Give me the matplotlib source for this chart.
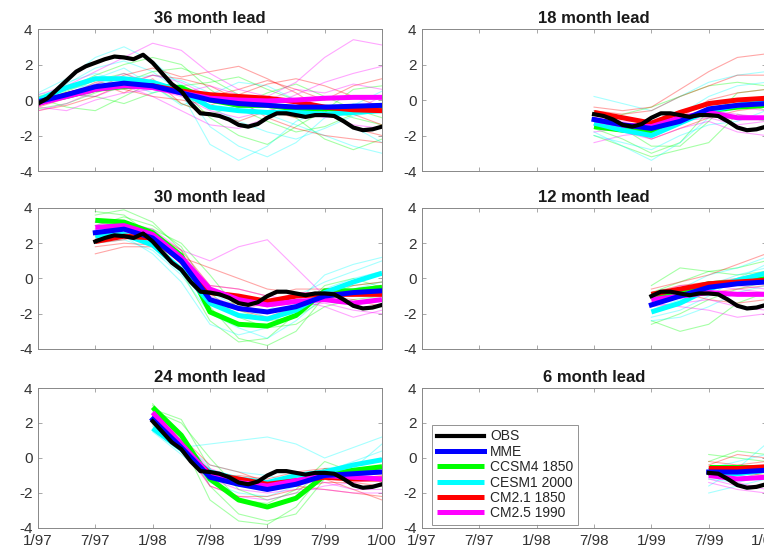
import numpy as np
import matplotlib
matplotlib.use("Agg")
import matplotlib.pyplot as plt

plt.rcParams["font.family"] = ["Liberation Sans", "DejaVu Sans"]
plt.rcParams["axes.unicode_minus"] = False

tick_labels = ["1/97", "7/97", "1/98", "7/98", "1/99", "7/99", "1/00"]
leads = [36, 18, 30, 12, 24, 6]          # panel order: row by row
lead_start = {36: 0, 30: 6, 24: 12, 18: 18, 12: 24, 6: 30}   # months after 1/97

# observed index, monthly from 1/97 to 1/00
obs = [-0.2, 0.1, 0.6, 1.1, 1.6, 1.9, 2.1, 2.3, 2.45, 2.4, 2.3, 2.55, 2.1,
       1.5, 0.9, 0.5, -0.2, -0.75, -0.8, -0.9, -1.1, -1.4, -1.5, -1.35, -1.0,
       -0.75, -0.75, -0.85, -0.95, -0.85, -0.85, -0.9, -1.2, -1.55, -1.7,
       -1.65, -1.5]

# model means, every 3 months from forecast start to 1/00
mme = {
    36: [-0.1, 0.3, 0.75, 0.95, 0.8, 0.4, 0.0, -0.2, -0.3, -0.4, -0.4, -0.35, -0.3],
    30: [2.6, 2.8, 2.3, 1.0, -1.2, -1.7, -1.9, -1.6, -1.0, -0.8, -0.7],
    24: [2.2, 0.6, -1.1, -1.5, -1.8, -1.5, -1.0, -0.9, -0.8],
    18: [-1.1, -1.4, -1.6, -1.2, -0.5, -0.3, -0.2],
    12: [-1.5, -1.0, -0.5, -0.3, -0.2],
    6: [-0.8, -0.8, -0.7],
}
ccsm4 = {
    36: [-0.1, 0.2, 0.6, 0.75, 0.8, 0.7, 0.0, -0.3, -0.3, -0.5, -0.5, -0.5, -0.5],
    30: [3.3, 3.2, 2.6, 1.3, -1.9, -2.6, -2.7, -2.1, -0.7, -0.7, -0.5],
    24: [2.9, 1.3, -1.2, -2.4, -2.8, -2.3, -1.0, -0.7, -0.5],
    18: [-1.5, -1.7, -1.8, -1.2, -0.6, -0.4, -0.3],
    12: [-1.0, -0.7, -0.3, -0.2, 0.0],
    6: [-0.5, -0.5, -0.5],
}
cesm1 = {
    36: [0.0, 0.7, 1.2, 1.2, 1.0, 0.5, -0.4, -0.6, -0.7, -0.7, -0.8, -0.7, -0.6],
    30: [2.4, 2.5, 1.9, 0.5, -1.4, -2.1, -2.3, -1.8, -0.8, -0.2, 0.3],
    24: [1.7, 0.5, -0.8, -1.2, -1.4, -1.0, -0.8, -0.4, -0.1],
    18: [-1.3, -1.7, -2.0, -1.3, -0.6, -0.3, 0.0],
    12: [-1.9, -1.4, -0.6, -0.1, 0.3],
    6: [-0.9, -0.9, -0.7],
}
cm21 = {
    36: [-0.2, 0.3, 0.7, 0.85, 0.8, 0.5, 0.3, 0.2, 0.1, -0.1, -0.4, -0.55, -0.6],
    30: [2.1, 2.4, 2.3, 1.0, -0.8, -1.0, -1.3, -1.0, -0.9, -0.9, -0.9],
    24: [2.3, 0.6, -0.9, -1.2, -1.5, -1.3, -1.1, -1.2, -1.2],
    18: [-0.7, -1.0, -1.3, -0.7, -0.2, 0.0, 0.1],
    12: [-0.9, -0.6, -0.3, -0.2, -0.1],
    6: [-0.6, -0.6, -0.5],
}
cm25 = {
    36: [-0.2, 0.2, 0.6, 0.8, 0.7, 0.4, 0.1, 0.0, -0.05, 0.0, 0.1, 0.15, 0.15],
    30: [2.9, 3.0, 2.5, 1.2, -0.6, -1.2, -1.5, -1.3, -1.2, -1.4, -1.2],
    24: [2.6, 0.8, -1.0, -1.4, -1.6, -1.3, -1.0, -1.1, -1.2],
    18: [-1.1, -1.4, -1.5, -1.0, -0.7, -1.0, -1.0],
    12: [-1.2, -1.0, -0.8, -0.9, -0.9],
    6: [-1.0, -1.2, -1.1],
}

# a few ensemble members per model, every 3 months
ccsm4_members = {
    36: [[0.2, 0.6, 1.4, 2.0, 2.4, 2.0, 0.6, -0.5, -1.2, -1.8, -1.5, -0.8, -0.4],
         [-0.5, -0.2, 0.4, 1.0, 1.6, 1.8, 1.2, 0.3, -0.4, -1.0, -2.2, -2.8, -2.2],
         [-0.3, 0.3, 0.2, -0.2, 0.4, 0.8, 1.0, 1.3, 0.6, 0.0, -0.4, -1.0, -1.4],
         [0.1, -0.4, -0.6, 0.2, 1.0, 0.6, -1.0, -2.0, -2.5, -1.5, -0.6, 0.6, 0.8],
         [-0.2, 0.5, 1.1, 1.5, 0.8, -0.2, -0.8, -0.3, 0.4, 0.9, 0.2, -0.5, -1.0]],
    30: [[3.6, 3.9, 3.2, 1.6, -1.6, -3.4, -3.8, -3.0, -1.0, -0.4, -0.2],
         [3.0, 3.5, 3.0, 1.8, -0.8, -2.2, -2.8, -2.6, -1.6, -1.2, -1.0],
         [3.8, 3.6, 2.4, 0.4, -2.4, -3.6, -3.4, -2.0, -0.4, 0.0, -0.5],
         [3.2, 3.0, 2.8, 2.0, 0.2, -1.8, -2.4, -2.2, -1.2, -0.8, -0.8]],
    24: [[3.1, 1.0, -2.4, -3.6, -3.8, -2.8, -0.8, -0.4, -0.2],
         [2.7, 2.0, 0.0, -1.8, -2.4, -2.0, -0.6, -0.6, -0.8],
         [3.0, 1.4, -1.6, -3.2, -3.6, -3.2, -1.2, -1.0, -0.4],
         [2.8, 2.2, -0.6, -2.4, -2.6, -1.8, -0.2, -0.8, -0.6]],
    18: [[-1.2, -1.6, -2.6, -2.6, -1.2, 0.4, 0.6],
         [-1.6, -2.2, -3.0, -2.4, -0.6, 0.0, -0.6],
         [-1.4, -0.8, -0.4, 0.2, 0.8, 1.0, 0.8],
         [-2.0, -2.6, -3.2, -2.8, -2.4, -0.8, -1.2]],
    12: [[-0.4, 0.6, 0.4, 0.2, 0.4],
         [-2.6, -2.0, -1.2, -0.6, -0.2],
         [-2.4, -3.0, -2.6, -1.4, -0.8],
         [-0.8, -0.2, 0.4, 0.6, 1.0]],
    6: [[-0.2, 0.4, 0.2], [-1.0, -0.8, -0.8], [0.2, 0.0, -0.2], [-0.6, -1.2, -0.8]],
}
cesm1_members = {
    36: [[0.4, 1.2, 2.4, 3.0, 2.2, 0.8, -1.5, -2.6, -3.2, -2.4, -1.0, -0.2, -0.4],
         [-0.1, 0.9, 1.8, 2.2, 1.6, 0.4, -2.5, -3.4, -2.6, -1.2, -0.6, -1.5, -2.4],
         [0.3, 0.6, 0.9, 1.2, 1.4, 1.1, 0.4, -0.2, -0.8, -1.4, -2.0, -2.6, -3.0],
         [-0.3, 0.2, 1.2, 1.8, 0.8, -0.3, 0.3, 1.0, 0.8, 0.0, -0.8, -0.3, 0.5],
         [0.0, 1.0, 1.5, 1.0, 0.4, 0.9, -0.4, -1.2, -1.8, -2.2, -1.6, -0.9, -0.6]],
    30: [[2.6, 2.4, 1.4, -0.2, -2.6, -3.2, -2.8, -1.4, 0.2, 0.8, 1.2],
         [2.2, 2.7, 2.2, 1.0, -0.8, -1.6, -2.2, -2.0, -0.6, 0.0, 0.4],
         [2.0, 2.2, 1.6, 0.2, -2.0, -2.8, -3.4, -2.4, -1.0, -0.6, -0.2],
         [2.8, 2.9, 2.4, 0.8, -1.4, -2.2, -1.8, -1.0, -0.2, 0.4, 1.0]],
    24: [[1.9, 0.6, 0.8, 1.0, 1.2, 0.8, 0.0, 0.6, 1.2],
         [1.5, 0.2, -1.2, -1.6, -1.6, -1.2, -0.8, -0.2, 0.4],
         [1.8, 0.8, -0.4, -0.8, -1.0, -1.4, -1.0, -0.6, 0.8],
         [1.6, 0.4, -1.4, -2.0, -2.2, -1.6, -0.6, -0.4, -0.2]],
    18: [[0.2, -0.2, -0.6, 0.2, 1.0, 1.4, 1.6],
         [-1.8, -2.6, -3.4, -2.4, -1.0, -0.4, -0.2],
         [-0.6, -1.0, -1.4, -0.8, 0.2, 0.8, 1.0],
         [-2.0, -2.4, -2.8, -2.0, -1.4, -1.2, -0.6]],
    12: [[-2.2, -1.8, -1.0, 0.0, 0.8],
         [-1.6, -0.6, 0.2, 0.6, 1.2],
         [-2.4, -2.2, -1.6, -0.8, -0.4],
         [-1.8, -1.2, -0.4, 0.2, 0.6]],
    6: [[-1.6, -0.6, 0.8], [-1.2, -1.4, -1.0], [-0.6, -0.2, 0.2], [-2.0, -1.6, -1.2]],
}
cm21_members = {
    36: [[-0.4, 0.1, 0.6, 1.4, 1.8, 1.3, 1.6, 1.9, 1.2, 0.4, -0.6, -1.6, -2.0],
         [0.0, 0.6, 1.1, 0.6, 0.2, 0.0, -0.3, 0.3, 0.9, 1.2, 0.8, 0.2, -0.4],
         [-0.6, -0.3, 0.2, 0.9, 1.4, 1.2, 0.8, 0.0, -1.0, -1.6, -2.0, -2.2, -2.4],
         [-0.2, 0.4, 0.8, 1.0, 0.6, 0.4, 0.2, 0.6, 1.1, 0.6, 0.0, 0.8, 1.2],
         [0.2, 0.2, 1.0, 0.4, 1.2, -0.2, -0.8, -1.2, -0.6, -1.0, -0.3, -0.8, -1.4]],
    30: [[1.4, 1.8, 1.8, 1.2, 0.6, 0.0, -0.6, -0.8, -0.8, -0.6, -0.4],
         [2.4, 2.6, 2.4, 0.8, -1.2, -1.8, -2.2, -1.6, -1.0, -1.2, -1.6],
         [2.0, 2.2, 2.6, 1.6, -0.4, -0.6, -1.0, -0.6, -0.6, -0.4, -0.2],
         [1.8, 2.0, 1.9, 0.4, -1.4, -1.4, -1.6, -1.4, -1.2, -1.4, -1.2]],
    24: [[2.4, 1.2, -0.4, -0.8, -1.4, -1.2, -1.2, -1.8, -2.4],
         [2.2, 0.8, -1.6, -2.2, -2.2, -1.8, -1.4, -1.4, -1.6],
         [2.3, 0.4, -1.0, -1.0, -1.2, -0.8, -0.6, -0.8, -1.0],
         [2.1, 1.0, -0.8, -1.6, -1.8, -1.6, -1.8, -2.0, -2.2]],
    18: [[-0.4, -0.6, -0.4, 0.6, 1.6, 2.4, 2.6],
         [-1.0, -1.4, -1.8, -1.0, 0.0, 0.4, 0.6],
         [-0.6, -0.8, -0.6, 0.2, 0.8, 1.4, 1.4],
         [-1.2, -1.6, -2.2, -1.6, -1.0, -0.6, -0.4]],
    12: [[-0.6, -0.2, 0.2, 0.8, 1.4],
         [-1.2, -1.0, -0.8, -0.6, -0.4],
         [-0.8, -0.4, -0.2, 0.0, 0.4],
         [-1.0, -0.8, -1.2, -1.4, -1.2]],
    6: [[-0.4, 0.2, 0.0], [-0.8, -1.0, -0.8], [-0.2, -0.4, -0.2], [-1.0, -0.8, -1.0]],
}
cm25_members = {
    36: [[0.3, 0.8, 1.6, 2.4, 3.2, 2.8, 1.5, 0.6, 0.2, 1.0, 2.4, 3.4, 3.1],
         [-0.4, -0.6, 0.0, 0.4, 0.6, 0.2, -0.6, -1.0, -0.6, -0.2, -0.8, -1.4, -1.6],
         [-0.1, 0.4, 0.9, 1.5, 0.9, 0.4, 0.8, 0.3, -0.4, 0.3, 1.0, 1.5, 1.9],
         [-0.6, -0.2, 0.5, 0.8, 0.2, -0.6, -1.4, -1.6, -1.0, -0.5, -1.0, -0.6, 0.2],
         [0.0, 0.3, 0.2, 0.8, 1.4, 1.0, 0.2, -0.3, 0.0, 0.6, 0.4, 0.9, 0.6]],
    30: [[2.8, 3.2, 2.8, 1.6, 1.0, 1.8, 2.2, 0.6, -1.0, -1.4, -1.2],
         [3.0, 2.8, 2.2, 0.8, -1.0, -1.6, -2.0, -1.6, -1.4, -1.8, -2.0],
         [2.6, 3.1, 2.6, 1.4, -0.4, -0.6, -1.0, -1.2, -1.6, -2.2, -1.8],
         [3.2, 2.9, 2.0, 0.6, -1.4, -1.8, -1.4, -0.8, -0.8, -1.0, -0.6]],
    24: [[2.7, 1.0, -0.6, -1.2, -1.6, -1.2, -1.4, -1.8, -1.8],
         [2.5, 0.6, -1.6, -2.2, -2.4, -2.0, -1.6, -1.4, -1.2],
         [2.6, 1.2, -0.8, -1.4, -1.8, -1.6, -1.2, -1.0, -0.6],
         [2.4, 0.4, -1.2, -1.8, -2.0, -1.8, -1.8, -2.0, -2.0]],
    18: [[-2.4, -2.0, -1.8, -1.2, -1.0, -1.4, -1.2],
         [-0.8, -1.2, -1.2, -0.6, -0.2, -0.4, -0.6],
         [-1.4, -1.8, -2.2, -1.6, -1.2, -1.8, -2.0],
         [-1.8, -1.6, -1.6, -1.0, -0.6, -0.8, -1.0]],
    12: [[-1.4, -1.6, -1.8, -2.2, -2.0],
         [-1.0, -0.4, -0.4, -0.6, -0.8],
         [-1.6, -1.4, -1.2, -1.6, -1.8],
         [-1.2, -0.8, -0.6, -0.4, -0.6]],
    6: [[-1.4, -1.8, -2.0], [-0.8, -1.0, -1.2], [-1.2, -1.6, -1.6], [-1.0, -1.4, -1.8]],
}

models = [
    ("CCSM4 1850", ccsm4, ccsm4_members, (0, 1, 0)),
    ("CESM1 2000", cesm1, cesm1_members, (0, 1, 1)),
    ("CM2.1 1850", cm21, cm21_members, (1, 0, 0)),
    ("CM2.5 1990", cm25, cm25_members, (1, 0, 1)),
]

fig = plt.figure(figsize=(7.64, 5.52), dpi=100)
lefts = [0.0497, 0.5524]
rows = [(0.6902, 0.2572), (0.3678, 0.2554), (0.0435, 0.2536)]
axc = "#333333"

for i, lead in enumerate(leads):
    r, c = divmod(i, 2)
    ax = fig.add_axes([lefts[c], rows[r][0], 0.4503, rows[r][1]])
    s = lead_start[lead]
    m3 = np.arange(s, 37, 3)
    mo = np.arange(s, 37)

    for name, mean, members, col in models:
        for mem in members[lead]:
            ax.plot(m3, mem, color=col, lw=0.8, alpha=0.35)
    for name, mean, members, col in models:
        ax.plot(m3, mean[lead], color=col, lw=3.6, label=name,
                solid_capstyle="butt")
    ax.plot(m3, mme[lead], color=(0, 0, 1), lw=3.6, label="MME")
    ax.plot(mo, obs[s:], color="k", lw=3.0, label="OBS")

    ax.set_xlim(0, 36)
    ax.set_ylim(-4, 4)
    ax.set_xticks(np.arange(len(tick_labels)) * 6)
    ax.set_yticks([-4, -2, 0, 2, 4])
    ax.tick_params(direction="in", top=True, right=True, length=3,
                   width=0.6, colors="#999999", labelcolor=axc,
                   labelsize=11, pad=4)
    if r < 2:
        ax.set_xticklabels([])
    else:
        ax.set_xticklabels(tick_labels)
    for sp in ax.spines.values():
        sp.set_color("#888888")
        sp.set_linewidth(0.7)
    ax.set_title(f"{lead} month lead", fontsize=12, fontweight="bold",
                 color="#1a1a1a", pad=4)

    if lead == 6:
        h, l = ax.get_legend_handles_labels()
        order = ["OBS", "MME", "CCSM4 1850", "CESM1 2000", "CM2.1 1850", "CM2.5 1990"]
        hs = [h[l.index(o)] for o in order]
        leg = ax.legend(hs, order, loc="lower left", bbox_to_anchor=(0.03, 0.02),
                        fontsize=10, frameon=True, fancybox=False,
                        handlelength=3.4, handletextpad=0.4, labelspacing=0.1,
                        borderpad=0.35, borderaxespad=0)
        leg.get_frame().set_edgecolor("#777777")
        leg.get_frame().set_linewidth(0.7)
        for t in leg.get_texts():
            t.set_color("#262626")

fig.savefig("out.png", dpi=100)
